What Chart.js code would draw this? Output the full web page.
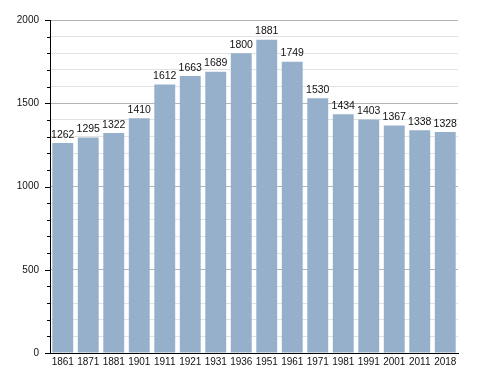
<!DOCTYPE html>
<html>
<head>
<meta charset="utf-8">
<script src="https://cdn.jsdelivr.net/npm/chart.js@4"></script>
<style>
  html, body { margin: 0; padding: 0; background: #fff; }
  #wrap { width: 488px; height: 373px; }
</style>
</head>
<body>
<div id="wrap"><canvas id="myChart" width="488" height="373"></canvas></div>
<script>
const years = ['1861', '1871', '1881', '1901', '1911', '1921', '1931', '1936',
    '1951', '1961', '1971', '1981', '1991', '2001', '2011', '2018'];
const population = [1262, 1295, 1322, 1410, 1612, 1663, 1689, 1800,
    1881, 1749, 1530, 1434, 1403, 1367, 1338, 1328];
const yLabels = [0, 500, 1000, 1500, 2000];

// numbers over the bars + little ticks on the y axis
const barLabels = {
    id: 'barLabels',
    afterDatasetsDraw(chart) {
        const ctx = chart.ctx;
        const meta = chart.getDatasetMeta(0);
        ctx.save();
        ctx.font = '10.5px "Liberation Sans", Arial, sans-serif';
        ctx.fillStyle = '#111';
        ctx.textAlign = 'center';
        ctx.textBaseline = 'bottom';
        meta.data.forEach((bar, i) => {
            ctx.fillText(String(population[i]), bar.x, bar.y - 3);
        });
        ctx.restore();
    },
    afterDraw(chart) {
        const ctx = chart.ctx;
        const y = chart.scales.y;
        const left = chart.chartArea.left;
        ctx.save();
        ctx.strokeStyle = '#000';
        ctx.lineWidth = 1;
        y.ticks.forEach(t => {
            const py = Math.round(y.getPixelForValue(t.value)) + 0.5;
            const len = t.value % 500 === 0 ? 5 : 3;
            ctx.beginPath();
            ctx.moveTo(left - len, py);
            ctx.lineTo(left, py);
            ctx.stroke();
        });
        ctx.restore();
    }
};

const data = {
    labels: years,
    datasets: [{
        data: population,
        backgroundColor: 'rgb(150, 176, 203)',
        borderWidth: 0,
        barPercentage: 0.82,
        categoryPercentage: 1.0
    }]
};

const config = {
    type: 'bar',
    data: data,
    options: {
        responsive: false,
        animation: false,
        layout: { padding: { top: 20, right: 30, left: 0, bottom: 0 } },
        plugins: {
            legend: { display: false },
            tooltip: { enabled: false }
        },
        scales: {
            x: {
                grid: { display: false, drawTicks: false },
                border: { color: '#000', width: 1 },
                ticks: {
                    color: '#111',
                    padding: 3,
                    maxRotation: 0,
                    autoSkip: false,
                    font: { family: '"Liberation Sans", Arial, sans-serif', size: 10 }
                },
                afterFit(scale) { scale.height = 20; }
            },
            y: {
                min: 0,
                max: 2000,
                grid: {
                    drawTicks: false,
                    color: ctx => (ctx.tick && ctx.tick.value % 500 === 0) ? '#b4b4b4' : '#e2e2e2',
                    lineWidth: 1
                },
                border: { color: '#000', width: 1 },
                ticks: {
                    stepSize: 100,
                    padding: 11,
                    color: '#111',
                    font: { family: '"Liberation Sans", Arial, sans-serif', size: 10 },
                    callback: v => yLabels.includes(v) ? String(v) : ''
                },
                afterFit(scale) { scale.width = 50; }
            }
        }
    },
    plugins: [barLabels]
};

const myChart = new Chart(
    document.getElementById('myChart'),
    config
);
</script>
</body>
</html>
